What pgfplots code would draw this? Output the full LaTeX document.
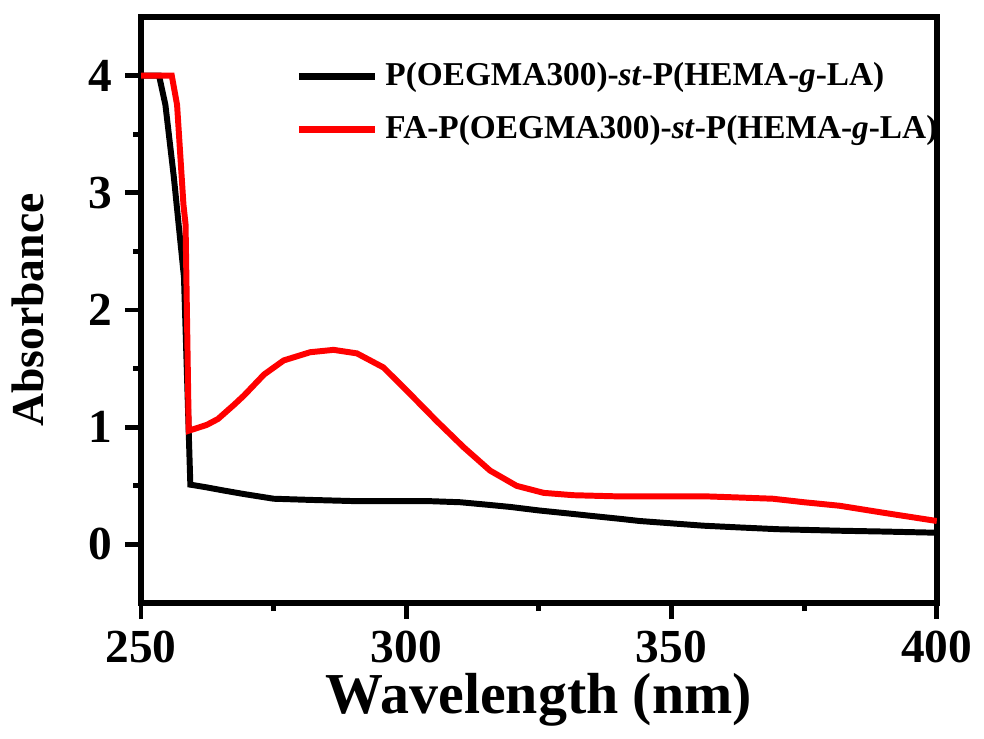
\documentclass[border=0pt]{standalone}
\usepackage{fontspec}
\setmainfont{Liberation Serif}
\usepackage{pgfplots}
\pgfplotsset{compat=1.18}

\begin{document}
\begin{tikzpicture}
    \begin{axis}[
        scale only axis,
        width=7.97cm,
        height=5.87cm,
        xmin=250, xmax=400,
        ymin=-0.5, ymax=4.5,
        xtick={250,300,350,400},
        ytick={0,1,2,3,4},
        minor x tick num=1,
        minor y tick num=1,
        tick pos=left,
        tick align=outside,
        major tick length=0.16cm,
        minor tick length=0.08cm,
        every tick/.style={line width=1.4pt, black},
        axis line style={line width=1.6pt},
        /pgf/number format/assume math mode=true,
        tick label style={font=\fontsize{13.5}{15}\selectfont\bfseries},
        xlabel={Wavelength (nm)},
        ylabel={Absorbance},
        xlabel style={font=\fontsize{16.5}{18}\selectfont\bfseries, yshift=4pt},
        ylabel style={font=\fontsize{13}{15}\selectfont\bfseries, yshift=6pt},
        legend style={draw=none, fill=none, at={(0.18,0.948)}, anchor=north west,
            font=\fontsize{9.5}{11}\selectfont\bfseries, row sep=3pt},
        legend cell align=left,
        legend image code/.code={\draw[#1, line width=2pt] (0cm,0cm) -- (0.76cm,0cm);},
    ]
        % Black: P(OEGMA300)-st-P(HEMA-g-LA)
        \addplot[black, line width=1.7pt] coordinates {
            (250,4.00) (253.4,4.00) (254.6,3.75) (256.2,3.13) (258.1,2.28)
            (259.3,0.51) (262,0.49) (265.6,0.46) (269.4,0.43) (275,0.39)
            (281.9,0.38) (290,0.37) (297.6,0.37) (304,0.37) (310.2,0.36)
            (315,0.34) (319.6,0.32) (325,0.29) (331.5,0.26) (334.6,0.245)
            (340,0.22) (344,0.20) (350,0.18) (356,0.16) (362.8,0.145)
            (370,0.13) (381.7,0.117) (390,0.11) (400,0.10)
        };
        \addlegendentry{P(OEGMA300)-\textit{st}-P(HEMA-\textit{g}-LA)}

        % Red: FA-P(OEGMA300)-st-P(HEMA-g-LA)
        \addplot[red, line width=1.7pt] coordinates {
            (250,4.00) (255.8,4.00) (256.8,3.75) (258.0,2.90) (258.4,2.73)
            (259.0,0.97) (262.4,1.02) (264.5,1.07) (267.5,1.19) (269.4,1.27)
            (273.2,1.45) (276.9,1.57) (281.9,1.64) (286.3,1.66) (290.7,1.63)
            (295.7,1.51) (300.8,1.28) (305.8,1.05) (310.8,0.83) (315.8,0.63)
            (320.8,0.50) (325.9,0.44) (331.5,0.42) (340,0.41) (350,0.41)
            (356.6,0.41) (363,0.40) (369.1,0.39) (375,0.36) (381.7,0.33)
            (390,0.27) (400,0.20)
        };
        \addlegendentry{FA-P(OEGMA300)-\textit{st}-P(HEMA-\textit{g}-LA)}
    \end{axis}
    % a little white room above the frame, as in the reference
    \path ([yshift=0.17cm]current axis.north);
\end{tikzpicture}
\end{document}
